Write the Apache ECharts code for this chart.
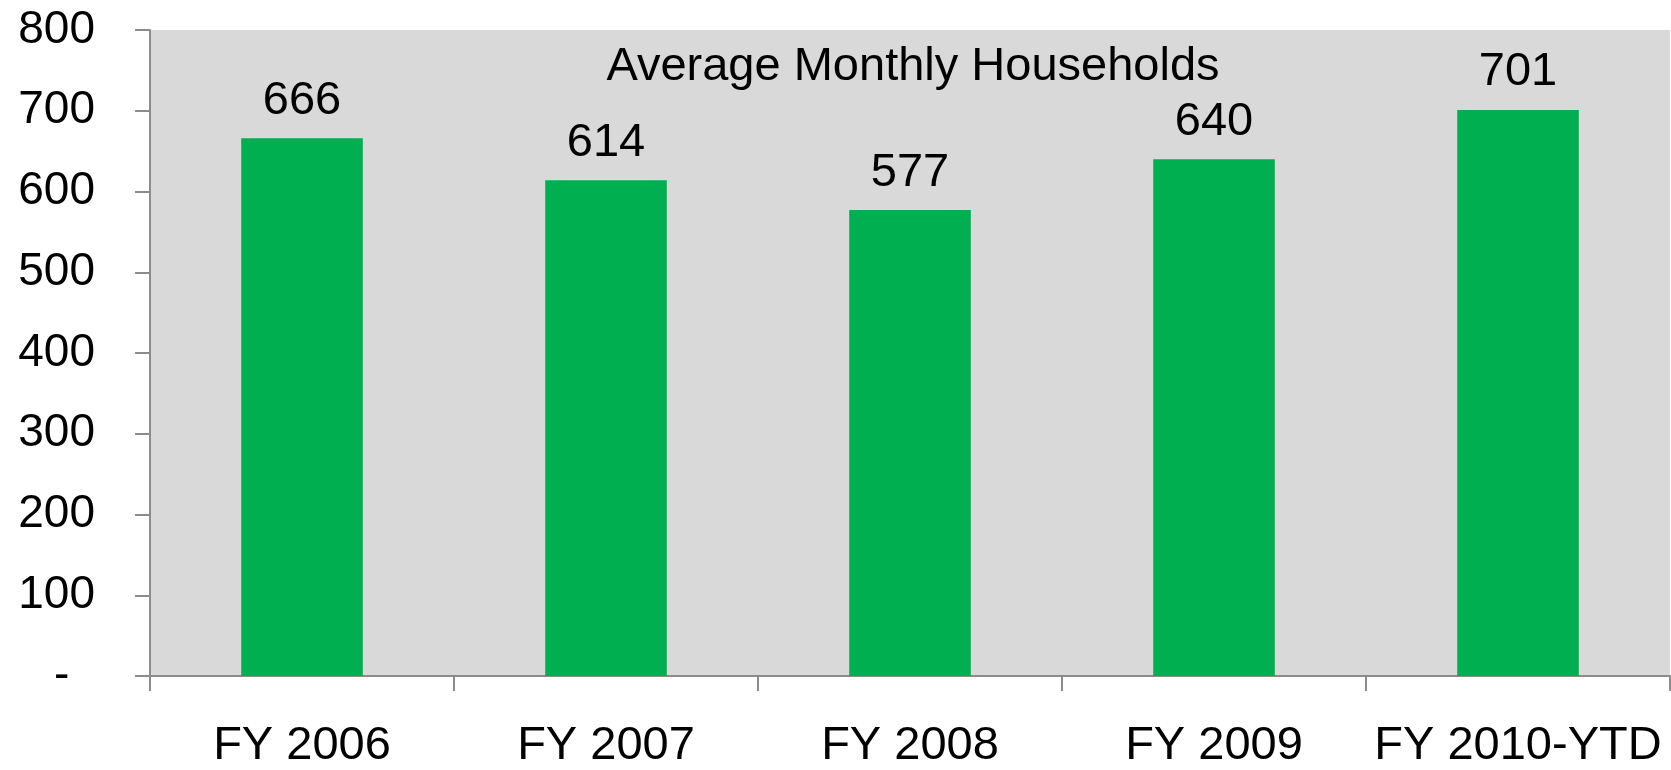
<!DOCTYPE html>
<html lang="en">
<head>
    <meta charset="UTF-8">
    <title>Average Monthly Households</title>
    <script src="https://cdn.jsdelivr.net/npm/echarts@6/dist/echarts.min.js"></script>
    <style>
        html, body { margin: 0; padding: 0; background: #fff; }
    </style>
</head>
<body>
<div id="myChart" style="width:1671px;height:770px"></div>
<script type="text/javascript">
    // data
    var categories = ['FY 2006', 'FY 2007', 'FY 2008', 'FY 2009', 'FY 2010-YTD'];
    var households = [666, 614, 577, 640, 701];
    var yTicks = [0, 100, 200, 300, 400, 500, 600, 700, 800];

    var font = '"Liberation Sans", Arial, sans-serif';
    var myChart = echarts.init(document.getElementById('myChart'));
    myChart.setOption({
        animation: false,
        title: {
            text: 'Average Monthly Households',
            left: 908,
            top: 39,
            textAlign: 'center',
            textStyle: { fontFamily: font, fontSize: 47, fontWeight: 'normal', color: '#000' }
        },
        grid: {
            left: 150, right: 1, top: 30, bottom: 91,
            show: true, backgroundColor: '#d9d9d9', borderWidth: 0
        },
        xAxis: {
            type: 'category',
            data: categories,
            axisLine: { lineStyle: { color: '#8c8c8c', width: 2 } },
            axisTick: { show: true, length: 15, lineStyle: { color: '#8c8c8c', width: 2 } },
            axisLabel: { fontFamily: font, fontSize: 47, color: '#000', margin: 47, interval: 0 }
        },
        yAxis: {
            type: 'value',
            min: yTicks[0],
            max: yTicks[yTicks.length - 1],
            interval: 100,
            axisLine: { show: true, lineStyle: { color: '#8c8c8c', width: 2 } },
            axisTick: { show: true, length: 15, lineStyle: { color: '#8c8c8c', width: 2 } },
            splitLine: { show: false },
            axisLabel: {
                fontFamily: font, fontSize: 46, color: '#000', margin: 55,
                formatter: function (v) { return v === 0 ? '-  ' : v; }
            }
        },
        series: [{
            type: 'bar',
            data: households,
            barWidth: '40%',
            itemStyle: { color: '#00b050' },
            label: {
                show: true,
                position: 'top',
                distance: 14,
                fontFamily: font,
                fontSize: 47,
                color: '#000'
            }
        }]
    });
</script>
</body>
</html>
